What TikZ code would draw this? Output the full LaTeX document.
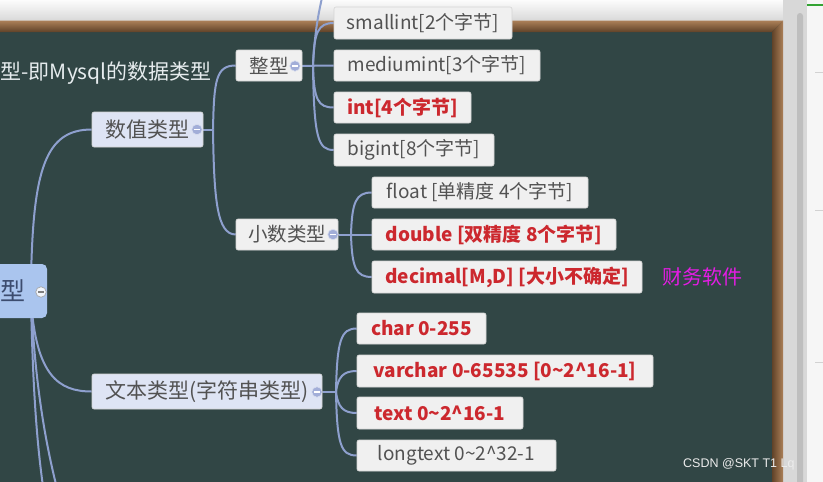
\documentclass[tikz,border=0pt]{standalone}
\usepackage{fontspec}
\setmainfont{Noto Sans CJK SC}
\newfontfamily\wmfont{Liberation Sans}
\definecolor{board}{RGB}{49,70,69}
\definecolor{wall}{RGB}{216,216,216}
\definecolor{woodA}{RGB}{172,128,88}
\definecolor{woodM}{RGB}{142,102,66}
\definecolor{woodB}{RGB}{96,66,40}
\definecolor{conncol}{RGB}{142,160,206}
\definecolor{leaffill}{RGB}{240,240,240}
\definecolor{leafedge}{RGB}{212,212,212}
\definecolor{branchfill}{RGB}{222,228,244}
\definecolor{rootfill}{RGB}{170,197,238}
\definecolor{roottext}{RGB}{60,76,110}
\definecolor{greytext}{RGB}{82,82,82}
\definecolor{redtext}{RGB}{204,40,46}
\definecolor{magentatext}{RGB}{228,28,228}
\definecolor{knobfill}{RGB}{162,174,216}
\definecolor{titlecol}{RGB}{230,236,238}
\definecolor{scrollcol}{RGB}{190,190,190}
\definecolor{panelcol}{RGB}{246,246,246}
\pgfdeclarelayer{back}
\pgfdeclarelayer{lines}
\pgfsetlayers{back,lines,main}
\tikzset{
  conn/.style={draw=conncol, line width=2pt},
  leafbox/.style={fill=leaffill, draw=leafedge, line width=0.6pt, rounded corners=2pt,
    minimum height=31, inner sep=0pt, text=greytext, font=\fontsize{19}{19}\selectfont},
  hot/.style={text=redtext, font=\bfseries\fontsize{19}{19}\selectfont},
  subbox/.style={fill=leaffill, draw=leafedge, line width=0.6pt, rounded corners=2pt,
    minimum height=31, inner sep=0pt, text=greytext, font=\fontsize{19.5}{19.5}\selectfont},
  mainbox/.style={fill=branchfill, draw=leafedge, line width=0.6pt, rounded corners=2pt,
    minimum height=35, inner sep=0pt, text=greytext, font=\fontsize{21}{21}\selectfont},
  rootbox/.style={fill=rootfill, rounded corners=5pt, inner sep=0pt, text=roottext,
    font=\fontsize{25}{25}\selectfont},
  knob/.style={circle, minimum size=10.5, inner sep=0pt, fill=knobfill, draw=white!60!knobfill, line width=0.6pt,
    path picture={\draw[white, line width=1.3pt] ([xshift=-3pt]path picture bounding box.center) -- ([xshift=3pt]path picture bounding box.center);}},
  rootknob/.style={circle, minimum size=10.5, inner sep=0pt, fill=white!85!rootfill, draw=gray!70, line width=0.7pt,
    path picture={\draw[gray, line width=1.3pt] ([xshift=-3pt]path picture bounding box.center) -- ([xshift=3pt]path picture bounding box.center);}}
}
\begin{document}
\begin{tikzpicture}[x=1pt, y=-1pt]
\useasboundingbox (0,0) rectangle (823,482);
\clip (0,0) rectangle (823,482);
% ---------- background ----------
\begin{pgfonlayer}{back}
  \fill[board] (0,0) rectangle (823,482);
  \shade[top color=white!92!wall, bottom color=wall] (0,0) rectangle (823,21);
  \fill[wall] (783,0) rectangle (823,482);
  \shade[top color=woodA, middle color=woodM, bottom color=woodB] (0,20.5) -- (783,20.5) -- (772,32) -- (0,32) -- cycle;
  \shade[left color=woodB, right color=woodA] (772,32) -- (783,20.5) -- (783,482) -- (772,482) -- cycle;
  \fill[scrollcol, rounded corners=3pt] (797,13) rectangle (803,490);
  \fill[panelcol] (807,0) rectangle (823,482);
  \draw[green!55!black!80, line width=1.2pt] (807,5) -- (823,5);
  \draw[gray!35, line width=0.6pt] (815,72) -- (823,72);
  \draw[gray!35, line width=0.6pt] (815,210) -- (823,210);
  \draw[gray!35, line width=0.6pt] (815,362) -- (823,362);
\end{pgfonlayer}
% ---------- title ----------
\node[font=\fontsize{21}{21}\selectfont, text=titlecol, anchor=east, inner sep=0pt] (title) at (212,73) {型-即Mysql的数据类型};
% ---------- root ----------
\node[rootbox, minimum width=69, minimum height=54] (root) at (12.5,291) {型};
\node[rootknob] (kR) at (41,292) {};
% ---------- level 1 ----------
\node[mainbox, minimum width=111] (shuzhi) at (147.5,129.5) {数值类型};
\node[knob] (kA) at (197,129.5) {};
\node[mainbox, minimum width=230] (wenben) at (207,391.5) {文本类型(字符串类型)};
\node[knob] (kD) at (317,392) {};
% ---------- level 2 ----------
\node[subbox, minimum width=66] (zheng) at (269,65.5) {整型};
\node[knob] (kB) at (295,66) {};
\node[subbox, minimum width=102] (xiaoshu) at (287,234.5) {小数类型};
\node[knob] (kC) at (333,234.5) {};
% ---------- integer leaves ----------
\node[leafbox, minimum width=178, minimum height=32] (small) at (423,23) {smallint[2个字节]};
\node[leafbox, minimum width=206] (medium) at (437,65.5) {mediumint[3个字节]};
\node[leafbox, hot, minimum width=137] (int) at (402.5,107.5) {int[4个字节]};
\node[leafbox, minimum width=160, minimum height=32] (bigint) at (414,150) {bigint[8个字节]};
% ---------- decimal leaves ----------
\node[leafbox, minimum width=216] (float) at (480,192.5) {float [单精度 4个字节]};
\node[leafbox, hot, minimum width=244] (double) at (494,234.5) {double [双精度 8个字节]};
\node[leafbox, hot, minimum width=270, minimum height=32] (decimal) at (507,277) {decimal[M,D] [大小不确定]};
\node[font=\fontsize{20}{20}\selectfont, text=magentatext, inner sep=0pt] (note) at (702,277) {财务软件};
% ---------- text leaves ----------
\node[leafbox, hot, minimum width=129] (char) at (421.5,328.5) {char 0-255};
\node[leafbox, hot, minimum width=296, minimum height=32] (varchar) at (505,371) {varchar 0-65535 [0\textasciitilde2\textasciicircum16-1]};
\node[leafbox, hot, minimum width=166, minimum height=32] (ntext) at (440,413) {text 0\textasciitilde2\textasciicircum16-1};
\node[leafbox, minimum width=199] (longtext) at (456.5,455.5) {longtext 0\textasciitilde2\textasciicircum32-1};
% ---------- watermark ----------
\node[font=\wmfont\fontsize{12.5}{12.5}\selectfont, text=white!86!gray, anchor=west, inner sep=0pt] (wm) at (683,464) {CSDN @SKT T1 Lq};
% ---------- connectors ----------
\begin{pgfonlayer}{lines}
  \coordinate (rA) at (31,280);
  \coordinate (rB) at (31,300);
  \coordinate (offA) at (45,500);
  \coordinate (offB) at (60,500);
  \coordinate (offC) at (324,-12);
  \coordinate (jA) at (213,129.5);
  \coordinate (jB) at (313,66);
  \coordinate (jC) at (351,234.5);
  \coordinate (jD) at (336,392);
  \draw[conn] (rA) .. controls (33,170) and (45,129.5) .. (shuzhi.west);
  \draw[conn] (rB) .. controls (36,375) and (58,391.5) .. (wenben.west);
  \draw[conn] (rB) .. controls (33,400) and (38,455) .. (offA);
  \draw[conn] (rB) .. controls (35,380) and (44,440) .. (offB);
  \draw[conn] (kA) -- (jA);
  \draw[conn] (jA) .. controls (214,80) and (216,65.5) .. (zheng.west);
  \draw[conn] (jA) .. controls (214,200) and (217,234.5) .. (xiaoshu.west);
  \draw[conn] (kB) -- (medium.west);
  \draw[conn] (jB) .. controls (314,32) and (318,23) .. (small.west);
  \draw[conn] (jB) .. controls (314,100) and (318,107.5) .. (int.west);
  \draw[conn] (jB) .. controls (314,138) and (318,150) .. (bigint.west);
  \draw[conn] (jB) .. controls (315,25) and (320,8) .. (offC);
  \draw[conn] (kC) -- (double.west);
  \draw[conn] (jC) .. controls (352,202) and (356,192.5) .. (float.west);
  \draw[conn] (jC) .. controls (352,268) and (356,277) .. (decimal.west);
  \draw[conn] (kD) -- (jD);
  \draw[conn] (jD) .. controls (337,340) and (341,328.5) .. (char.west);
  \draw[conn] (jD) .. controls (338,377) and (343,371) .. (varchar.west);
  \draw[conn] (jD) .. controls (338,407) and (343,413) .. (ntext.west);
  \draw[conn] (jD) .. controls (337,445) and (341,455.5) .. (longtext.west);
\end{pgfonlayer}
\end{tikzpicture}
\end{document}
